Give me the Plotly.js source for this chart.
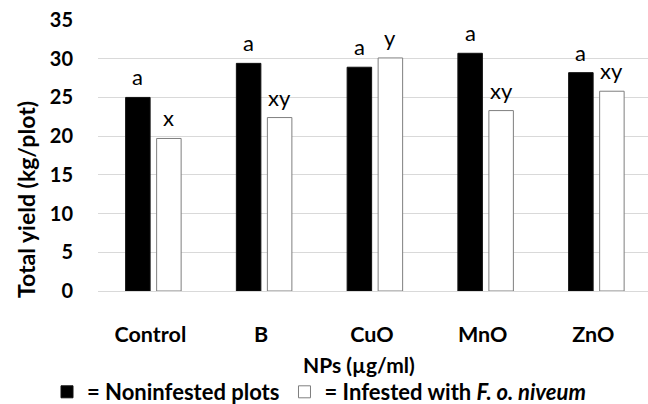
<!DOCTYPE html>
<html>
<head>
<meta charset="utf-8">
<script src="https://cdn.plot.ly/plotly-3.0.1.min.js"></script>
<style>html,body{margin:0;padding:0;background:#fff;}#chart{width:648px;height:404px;}</style>
</head>
<body>
<div id="chart"></div>
<script>
const categories = ["Control", "B", "CuO", "MnO", "ZnO"];
const noninfested = [25.0, 29.4, 28.9, 30.7, 28.2];
const infested = [19.7, 22.4, 30.1, 23.3, 25.8];
const noninfestedLetters = ["a", "a", "a", "a", "a"];
const infestedLetters = ["x", "xy", "y", "xy", "xy"];
const yTicks = [0, 5, 10, 15, 20, 25, 30, 35];

const FONT = "Lato, 'Open Sans', sans-serif";

const traces = [
  {
    type: "bar", x: categories, y: noninfested,
    name: "= Noninfested plots",
    marker: {color: "#000000", line: {color: "#111111", width: 1}}
  },
  {
    type: "bar", x: categories, y: infested,
    name: "= Infested with <i>F. o. niveum</i>",
    marker: {color: "#ffffff", line: {color: "#7f7f7f", width: 1}}
  }
];

const annotations = [];
categories.forEach((c, i) => {
  annotations.push({x: c, y: noninfested[i], xref: "x", yref: "y", text: noninfestedLetters[i],
    showarrow: false, xshift: -15.5, yshift: 5, yanchor: "bottom",
    font: {family: FONT, size: 22, color: "#000"}});
  annotations.push({x: c, y: infested[i], xref: "x", yref: "y", text: infestedLetters[i],
    showarrow: false, xshift: 15.5, yshift: 5, yanchor: "bottom",
    font: {family: FONT, size: 22, color: "#000"}});
});
// x-axis title
annotations.push({xref: "paper", yref: "paper", x: (358.5 - 98) / 550, y: (291 - 364) / 271,
  xanchor: "center", yanchor: "middle", showarrow: false, text: "NPs (µg/ml)",
  font: {family: FONT, size: 21, color: "#000", weight: "bold"}});
// y-axis title
annotations.push({xref: "paper", yref: "paper", x: (26 - 98) / 550, y: (291 - 200) / 271,
  xanchor: "center", yanchor: "middle", showarrow: false, textangle: -90, text: "Total yield (kg/plot)",
  font: {family: FONT, size: 23, color: "#000", weight: "bold"}});

const layout = {
  width: 648, height: 404,
  margin: {l: 98, r: 0, t: 20, b: 113, autoexpand: false},
  paper_bgcolor: "#fff", plot_bgcolor: "#fff",
  font: {family: FONT, color: "#000"},
  barmode: "group", bargap: 0.44, bargroupgap: 0.21,
  showlegend: true,
  legend: {orientation: "h", x: (47 - 98) / 550, xanchor: "left", y: (291 - 392) / 271, yanchor: "middle",
    font: {family: FONT, size: 22, color: "#000", weight: "bold"}, traceorder: "normal", itemwidth: 30},
  xaxis: {
    type: "category", range: [-0.5, 4.466], showgrid: false, zeroline: false, showline: false, ticks: "",
    automargin: false,
    tickfont: {family: FONT, size: 21.5, color: "#000", weight: "bold"},
    ticklabelshift: -3, ticklabelstandoff: 28
  },
  yaxis: {
    range: [0, 35], tickvals: yTicks, ticktext: yTicks.map(String), automargin: false,
    showgrid: true, gridcolor: "#d9d9d9", gridwidth: 1, zeroline: true, zerolinecolor: "#d9d9d9", zerolinewidth: 1,
    showline: false, ticks: "",
    tickfont: {family: FONT, size: 20, color: "#000", weight: "bold"},
    ticklabelstandoff: 24
  },
  annotations: annotations
};

Plotly.newPlot("chart", traces, layout, {displayModeBar: false, staticPlot: true});
</script>
</body>
</html>
